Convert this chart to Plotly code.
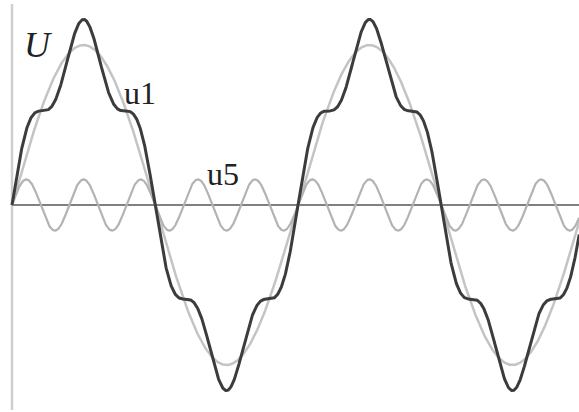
import numpy as np
import plotly.graph_objects as go

# Phase angle samples in degrees (two full periods plus margins)
theta_deg = np.linspace(0, 714, 1500)

# Wave parameters
u1_amplitude = 1.0      # fundamental
u5_amplitude = 0.16     # 5th harmonic
harmonic_order = 5

rad = np.deg2rad(theta_deg)
u1 = u1_amplitude * np.sin(rad)
u5 = u5_amplitude * np.sin(harmonic_order * rad)
u_sum = u1 + u5

W, H = 579, 412

fig = go.Figure()

fig.add_trace(go.Scatter(x=theta_deg, y=u1, mode="lines",
                         line=dict(color="#c4c4c4", width=2.5),
                         hoverinfo="skip", showlegend=False))
fig.add_trace(go.Scatter(x=theta_deg, y=u5, mode="lines",
                         line=dict(color="#b3b3b3", width=2.2),
                         hoverinfo="skip", showlegend=False))
fig.add_trace(go.Scatter(x=theta_deg, y=u_sum, mode="lines",
                         line=dict(color="#3c3c3c", width=3),
                         hoverinfo="skip", showlegend=False))

# Axes drawn as lines: vertical U axis and horizontal time axis
fig.add_shape(type="line", xref="x", yref="paper", x0=0, x1=0, y0=0.005, y1=0.99,
              line=dict(color="#cfcfcf", width=2.5), layer="below")
fig.add_shape(type="line", xref="x", yref="y", x0=0, x1=720, y0=0, y1=0,
              line=dict(color="#808080", width=2), layer="below")

serif = "Liberation Serif, Times New Roman, serif"
fig.add_annotation(text="<i>U</i>", xref="paper", yref="paper",
                   x=38 / W, y=1 - 45 / H, showarrow=False,
                   xanchor="center", yanchor="middle",
                   font=dict(family=serif, size=36, color="#222222"))
fig.add_annotation(text="u1", xref="paper", yref="paper",
                   x=140 / W, y=1 - 93 / H, showarrow=False,
                   xanchor="center", yanchor="middle",
                   font=dict(family=serif, size=32, color="#222222"))
fig.add_annotation(text="u5", xref="paper", yref="paper",
                   x=223 / W, y=1 - 174 / H, showarrow=False,
                   xanchor="center", yanchor="middle",
                   font=dict(family=serif, size=32, color="#222222"))

deg_per_px = 360 / 286
fig.update_xaxes(range=[-12 * deg_per_px, (W - 12) * deg_per_px],
                 visible=False, showgrid=False, zeroline=False)
fig.update_yaxes(range=[-(H - 205) / 160, 205 / 160],
                 visible=False, showgrid=False, zeroline=False)

fig.update_layout(width=W, height=H, margin=dict(l=0, r=0, t=0, b=0),
                  paper_bgcolor="white", plot_bgcolor="white")

fig.write_html("out.html")
